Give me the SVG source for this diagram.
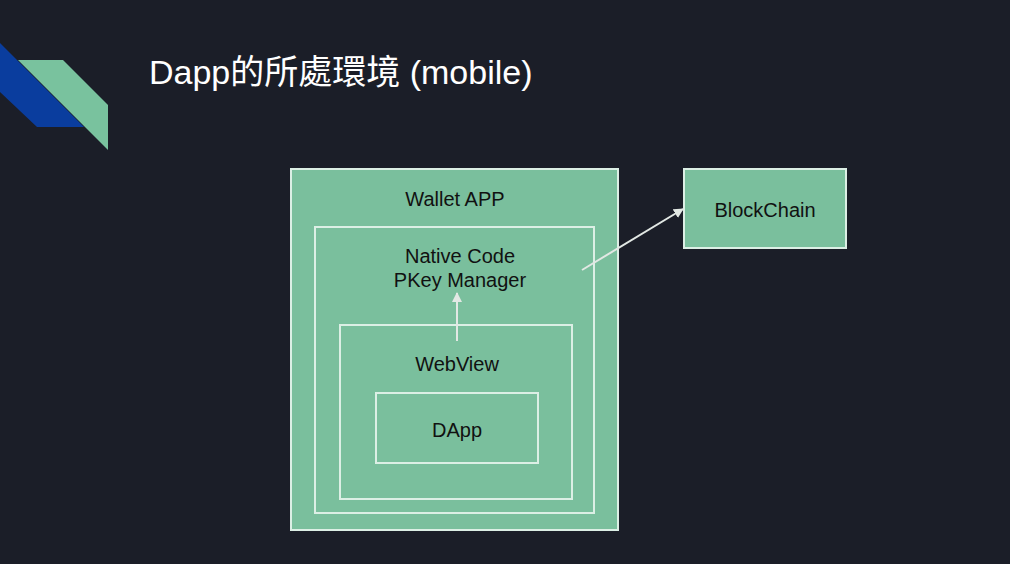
<svg xmlns="http://www.w3.org/2000/svg" width="1010" height="564" viewBox="0 0 1010 564">
<style>
.box{fill:#7abf9d;stroke:#dcefe5;stroke-width:2}
.lbl{font-family:"Liberation Sans",Arial,sans-serif;font-size:20px;fill:#111;text-anchor:middle}
.conn{stroke:#e2e8e4;stroke-width:2;fill:none}
</style>
<defs>
<marker id="ah" viewBox="0 0 10 10" refX="9" refY="5" markerWidth="5" markerHeight="5" orient="auto-start-reverse" markerUnits="strokeWidth">
<path d="M0,0 L10,5 L0,10 z" fill="#e2e8e4"/>
</marker>
</defs>
<rect width="1010" height="564" fill="#1b1e28"/>
<polygon points="0,43 84,127 37,127 0,92" fill="#0a3d9e"/>
<polygon points="18,60 63,60 108,105 108,150" fill="#79c29e"/>
<text x="149" y="84" font-family="'Liberation Sans','Noto Sans CJK TC',sans-serif" font-size="34" fill="#ffffff">Dapp的所處環境 (mobile)</text>
<g id="wallet">
<rect class="box" x="291" y="169" width="327" height="361"/>
<text class="lbl" x="455" y="206">Wallet APP</text>
</g>
<g id="native">
<rect class="box" x="315" y="227" width="279" height="286"/>
<text class="lbl" x="460" y="263">Native Code</text>
<text class="lbl" x="460" y="287">PKey Manager</text>
</g>
<g id="webview">
<rect class="box" x="340" y="325" width="232" height="174"/>
<text class="lbl" x="457" y="371">WebView</text>
</g>
<g id="dapp">
<rect class="box" x="376" y="393" width="162" height="70"/>
<text class="lbl" x="457" y="437">DApp</text>
</g>
<g id="blockchain">
<rect class="box" x="684" y="169" width="162" height="79"/>
<text class="lbl" x="765" y="217">BlockChain</text>
</g>
<g id="connectors">
<line class="conn" x1="457" y1="341" x2="457" y2="293" marker-end="url(#ah)"/>
<line class="conn" x1="582" y1="270" x2="683" y2="209" marker-end="url(#ah)"/>
</g>
</svg>
